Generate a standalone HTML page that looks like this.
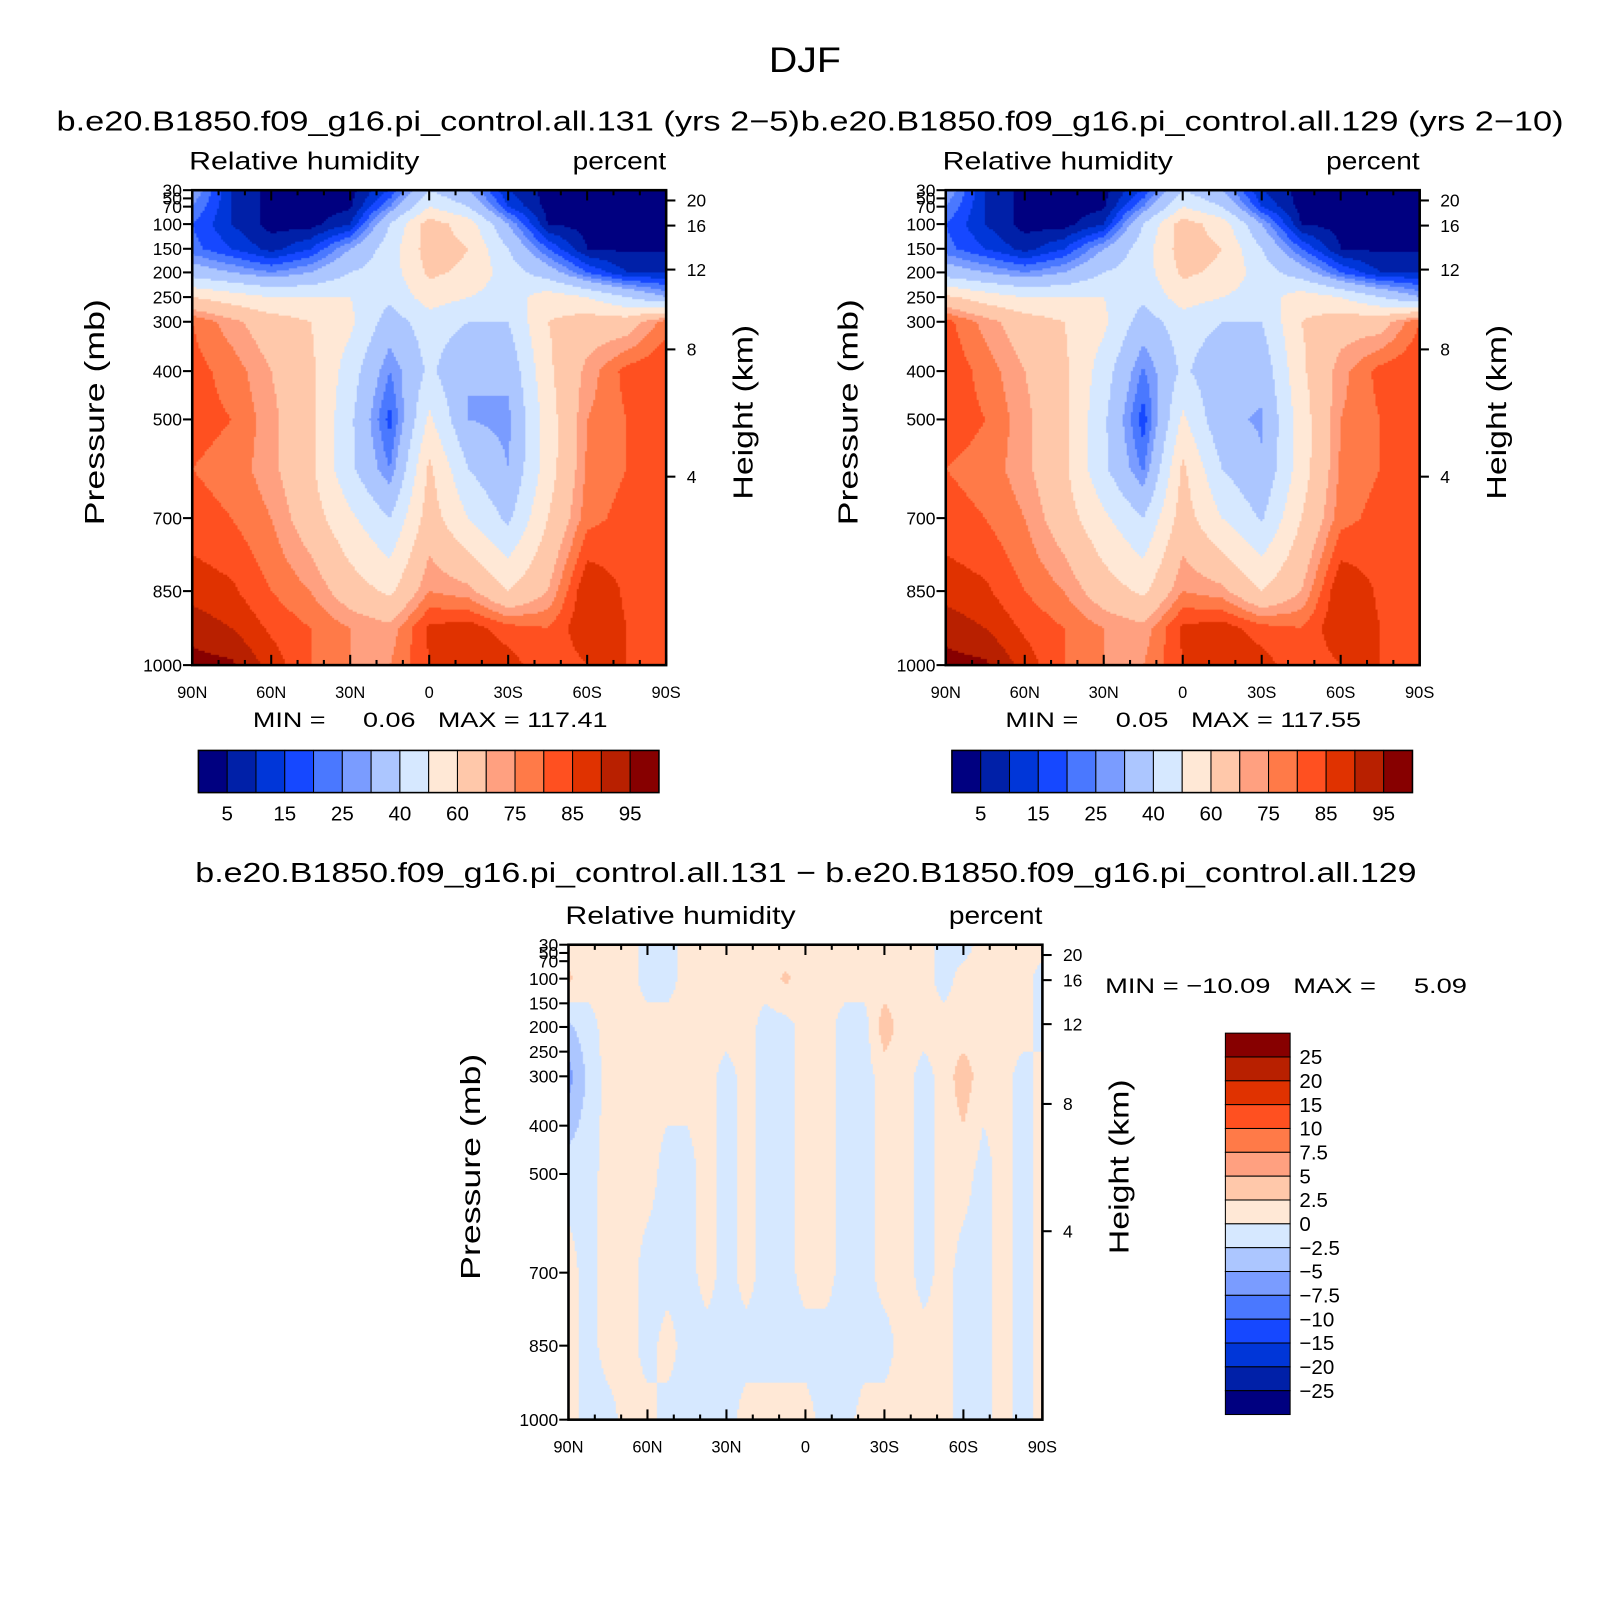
<!DOCTYPE html>
<html><head><meta charset="utf-8">
<style>
html,body{margin:0;padding:0;background:#fff;overflow:hidden;}
#wrap{position:relative;width:1575px;height:1575px;overflow:hidden;transform:scale(1.028);transform-origin:0 0;}
canvas,svg{position:absolute;left:0;top:0;}
text{font-family:"Liberation Sans",sans-serif;fill:#000;}
</style></head>
<body>
<div id="wrap">
<canvas id="cv" width="1575" height="1575"></canvas>
<svg id="sv" width="1575" height="1575" xmlns="http://www.w3.org/2000/svg">
<text x="748" y="70" font-size="34" textLength="70" lengthAdjust="spacingAndGlyphs">DJF</text>
<text x="55" y="127" font-size="27" textLength="723" lengthAdjust="spacingAndGlyphs">b.e20.B1850.f09_g16.pi_control.all.131 (yrs 2−5)</text>
<text x="779" y="127" font-size="27" textLength="742" lengthAdjust="spacingAndGlyphs">b.e20.B1850.f09_g16.pi_control.all.129 (yrs 2−10)</text>
<text x="190" y="858" font-size="27" textLength="1188" lengthAdjust="spacingAndGlyphs">b.e20.B1850.f09_g16.pi_control.all.131 − b.e20.B1850.f09_g16.pi_control.all.129</text>
</svg>
</div>
<script>
// ---- data ----
const lats = [90,75,60,45,30,15,0,-15,-30,-45,-60,-75,-90];
const pressures = [30,70,100,150,200,250,300,400,500,600,700,850,925,1000];
const rh131 = [
 [30,10,3,2,3,15,40,30,10,3,3,3,3],
 [25,10,3,2,4,25,50,40,15,3,3,3,3],
 [20,10,3,3,10,40,65,55,30,5,3,3,3],
 [22,15,8,15,30,45,65,60,40,20,5,4,4],
 [35,30,25,30,40,45,62,58,45,35,20,10,10],
 [60,55,50,50,50,42,55,50,45,55,50,40,30],
 [80,72,65,60,52,35,45,40,40,60,65,65,78],
 [82,78,70,62,45,25,42,30,32,58,72,82,85],
 [82,80,72,62,42,18,52,30,28,55,75,80,82],
 [80,78,72,62,42,25,62,40,30,55,76,80,80],
 [82,80,75,65,52,40,65,50,38,60,78,82,85],
 [88,86,80,75,65,58,75,72,60,70,90,84,80],
 [93,90,84,80,75,72,86,88,82,80,90,85,80],
 [97,96,88,80,75,75,85,90,88,80,85,85,80]
];
const rh129 = [
 [30,10,3,2,3,15,40,30,10,3,3,3,3],
 [25,10,3,2,4,25,50,40,15,3,3,3,3],
 [20,10,3,3,10,40,65,55,30,5,3,3,3],
 [22,15,8,15,30,45,65,60,40,20,5,4,4],
 [35,30,25,30,40,45,62,58,45,35,20,10,10],
 [62,55,50,50,50,42,55,50,45,55,50,40,30],
 [82,73,65,60,52,35,45,40,40,60,66,66,80],
 [84,78,70,62,45,24,42,32,33,58,73,82,85],
 [83,80,72,62,42,17,52,32,29,55,75,80,82],
 [80,78,72,62,42,24,62,40,31,55,76,80,80],
 [82,80,75,65,52,40,65,50,39,60,78,82,85],
 [88,86,80,75,65,58,75,72,60,70,90,84,80],
 [93,90,84,80,75,72,86,88,82,80,90,85,80],
 [97,96,88,80,75,75,85,90,88,80,85,85,80]
];
const rhLevels = [5,10,15,20,25,30,40,50,60,70,75,80,85,90,95];
const rhLabels = ["5","15","25","40","60","75","85","95"];
const diffLats = [90,82.5,75,67.5,60,52.5,45,37.5,30,22.5,15,7.5,0,-7.5,-15,-22.5,-30,-37.5,-45,-52.5,-60,-67.5,-75,-82.5,-90];
const diffPressures = [30,100,200,300,500,700,850,1000];
const diff = [
 [1,1,1,1,-1,-1,1,1,1,1,1,1,1,1,1,1,1,1,1,-1,-1,1,1,1,1],
 [3,1,1,1,-1,-1,1,1,1,1,1,3,1,1,1,1,1,1,1,-1,1,1,1,1,-1],
 [-3,-1,1,1,1,1,1,1,1,1,-1,-1,1,1,-1,-1,4,1,1,1,1,1,1,1,-1],
 [-6,-2,1,1,1,1,1,1,-1,1,-1,-1,1,1,-1,-1,1,1,-1,1,4,1,1,-1,1],
 [-1,-1,1,1,1,-1,-1,1,-1,1,-1,-1,1,1,-1,-1,1,1,-1,1,1,-1,1,-1,1],
 [1,-1,1,1,-1,-1,-1,1,-1,1,-1,-1,1,1,-1,-1,1,1,-1,1,-1,-1,1,-1,1],
 [1,-1,1,1,-1,1,-1,-1,-1,-1,-1,-1,-1,-1,-1,-1,-1,1,1,1,-1,-1,1,-1,1],
 [1,-1,-1,1,1,-1,-1,-1,-1,1,1,1,1,-1,-1,1,1,1,1,1,-1,-1,1,-1,1]
];
const diffLevels = [-25,-20,-15,-10,-7.5,-5,-2.5,0,2.5,5,7.5,10,15,20,25];
const diffLabels = ["25","20","15","10","7.5","5","2.5","0","−2.5","−5","−7.5","−10","−15","−20","−25"];
const xTickLabels = ["90N","60N","30N","0","30S","60S","90S"];
const pTickLabels = [30,50,70,100,150,200,250,300,400,500,700,850,1000];
const hTickLabels = [20,16,12,8,4];
const hTickPressures = [55,103,194,356,616];
const colors = ["#000080","#0020a8","#0036d8","#1648ff","#4a78ff","#7a9cff","#acc6ff","#d6e8ff","#ffe8d6","#ffc8aa","#ffa080","#ff7a48","#ff5020","#e03200","#b82000","#870000"];

// ---- axes ----
const W = 461, H = 462;
const pAnchor = [[30,0],[50,8],[70,16],[100,33],[150,57],[200,80],[250,104],[300,128],[400,176],[500,223],[700,319],[850,390],[1000,462]];
function yOf(p){
  for(let i=0;i<pAnchor.length-1;i++){
    const a=pAnchor[i],b=pAnchor[i+1];
    if(p<=b[0]) return a[1]+(p-a[0])/(b[0]-a[0])*(b[1]-a[1]);
  }
  return H;
}
function xOf(lat){ return (90-lat)/180*W; }
function colorIdx(v,levels){ let k=0; while(k<levels.length && v>=levels[k]) k++; return k; }

const cv=document.getElementById('cv'), ctx=cv.getContext('2d');
const svg=document.getElementById('sv');
const NS="http://www.w3.org/2000/svg";
function mk(tag,attrs,parent){const e=document.createElementNS(NS,tag);for(const k in attrs)e.setAttribute(k,attrs[k]);(parent||svg).appendChild(e);return e;}

function field(ox,oy,la,pr,grid,levels){
  const xs=la.map(xOf), ys=pr.map(yOf);
  const step=2;
  const nr=Math.min(ys.length,grid.length);
  for(let py=0;py<H;py+=step){
    const yy=py+step/2;
    let r=0; while(r<nr-2 && yy>ys[r+1]) r++;
    const ty=Math.max(0,Math.min(1,(yy-ys[r])/(ys[r+1]-ys[r])));
    for(let px=0;px<W;px+=step){
      const xx=px+step/2;
      let c=0; while(c<xs.length-2 && xx>xs[c+1]) c++;
      const tx=Math.max(0,Math.min(1,(xx-xs[c])/(xs[c+1]-xs[c])));
      const v=(grid[r][c]*(1-tx)+grid[r][c+1]*tx)*(1-ty)+(grid[r+1][c]*(1-tx)+grid[r+1][c+1]*tx)*ty;
      ctx.fillStyle=colors[colorIdx(v,levels)];
      ctx.fillRect(ox+px,oy+py,step,step);
    }
  }
}

function axes(ox,oy,id){
  const g=mk('g',{});
  
  
  const fr=mk('rect',{x:ox,y:oy,width:W,height:H,fill:'none',stroke:'#000','stroke-width':2.5},g);
  
  
  for(let d=0;d<=180;d+=10){
    const x=ox+xOf(90-d), major=d%30===0, L=major?10:5;
    mk('line',{x1:x,y1:oy+H,x2:x,y2:oy+H-L,stroke:'#000','stroke-width':2},g);
    mk('line',{x1:x,y1:oy,x2:x,y2:oy+L,stroke:'#000','stroke-width':2},g);
  }
  xTickLabels.forEach((t,i)=>{
    const e=mk('text',{x:ox+xOf(90-30*i),y:oy+H+32,'font-size':16,'text-anchor':'middle'},g);e.textContent=t;
    
    
  });
  pTickLabels.forEach(p=>{
    const y=oy+yOf(p);
    mk('line',{x1:ox,y1:y,x2:ox-9,y2:y,stroke:'#000','stroke-width':2},g);
    const e=mk('text',{x:ox-10,y:y+6,'font-size':17,'text-anchor':'end'},g);e.textContent=p;
    
    
  });
  hTickLabels.forEach((h,i)=>{
    const y=oy+yOf(hTickPressures[i]);
    mk('line',{x1:ox+W,y1:y,x2:ox+W+9,y2:y,stroke:'#000','stroke-width':2},g);
    const e=mk('text',{x:ox+W+20,y:y+6,'font-size':17},g);e.textContent=h;
    
    
  });
  let e=mk('text',{x:ox-3,y:oy-20,'font-size':24,textLength:224,lengthAdjust:'spacingAndGlyphs'},g);e.textContent='Relative humidity';
  
  
  e=mk('text',{x:ox+W-91,y:oy-20,'font-size':24,textLength:91,lengthAdjust:'spacingAndGlyphs'},g);e.textContent='percent';
  
  
  e=mk('text',{x:-110,y:0,'font-size':27,textLength:220,lengthAdjust:'spacingAndGlyphs',transform:`translate(${ox-86},${oy+H/2-15}) rotate(-90)`},g);e.textContent='Pressure (mb)';
  
  
  e=mk('text',{x:-85,y:0,'font-size':27,textLength:170,lengthAdjust:'spacingAndGlyphs',transform:`translate(${ox+W+84},${oy+H/2-15}) rotate(-90)`},g);e.textContent='Height (km)';
  
  
}

function hbar(x0,y0,id){
  const w=448/16;
  colors.forEach((c,i)=>{
    const r=mk('rect',{x:x0+i*w,y:y0,width:w,height:41,fill:c,stroke:'#000','stroke-width':1});
    
    
  });
  mk('rect',{x:x0,y:y0,width:448,height:41,fill:'none',stroke:'#000','stroke-width':1.5});
  rhLabels.forEach((t,i)=>{
    const e=mk('text',{x:x0+w*(2*i+1),y:y0+68,'font-size':20,'text-anchor':'middle'});e.textContent=t;
    
    
  });
}

function minmax(x,y,txt,len,id){
  const e=mk('text',{x:x,y:y,'font-size':21,textLength:len,lengthAdjust:'spacingAndGlyphs'});
  e.setAttribute('style','white-space:pre');
  e.textContent=txt;
  
  
}

field(187,185,lats,pressures,rh131,rhLevels);
axes(187,185,'panel1');
hbar(193,730,'panel1');
minmax(246,707,'MIN =     0.06   MAX = 117.41',345,'panel1');

field(920,185,lats,pressures,rh129,rhLevels);
axes(920,185,'panel2');
hbar(926,730,'panel2');
minmax(978,707,'MIN =     0.05   MAX = 117.55',346,'panel2');

field(553,919,diffLats,diffPressures,diff,diffLevels);
axes(553,919,'panel3');
minmax(1075,966,'MIN = −10.09   MAX =     5.09',352,'panel3');
// vertical colorbar
(function(){
  const x0=1192,y0=1005,h=371/16;
  for(let i=0;i<16;i++){
    const r=mk('rect',{x:x0,y:y0+i*h,width:63,height:h,fill:colors[15-i],stroke:'#000','stroke-width':1});
    
    
  }
  diffLabels.forEach((t,i)=>{
    const e=mk('text',{x:x0+72,y:y0+h*(i+1)+7,'font-size':20});e.textContent=t;
    
    
  });
})();
</script>
</body></html>
